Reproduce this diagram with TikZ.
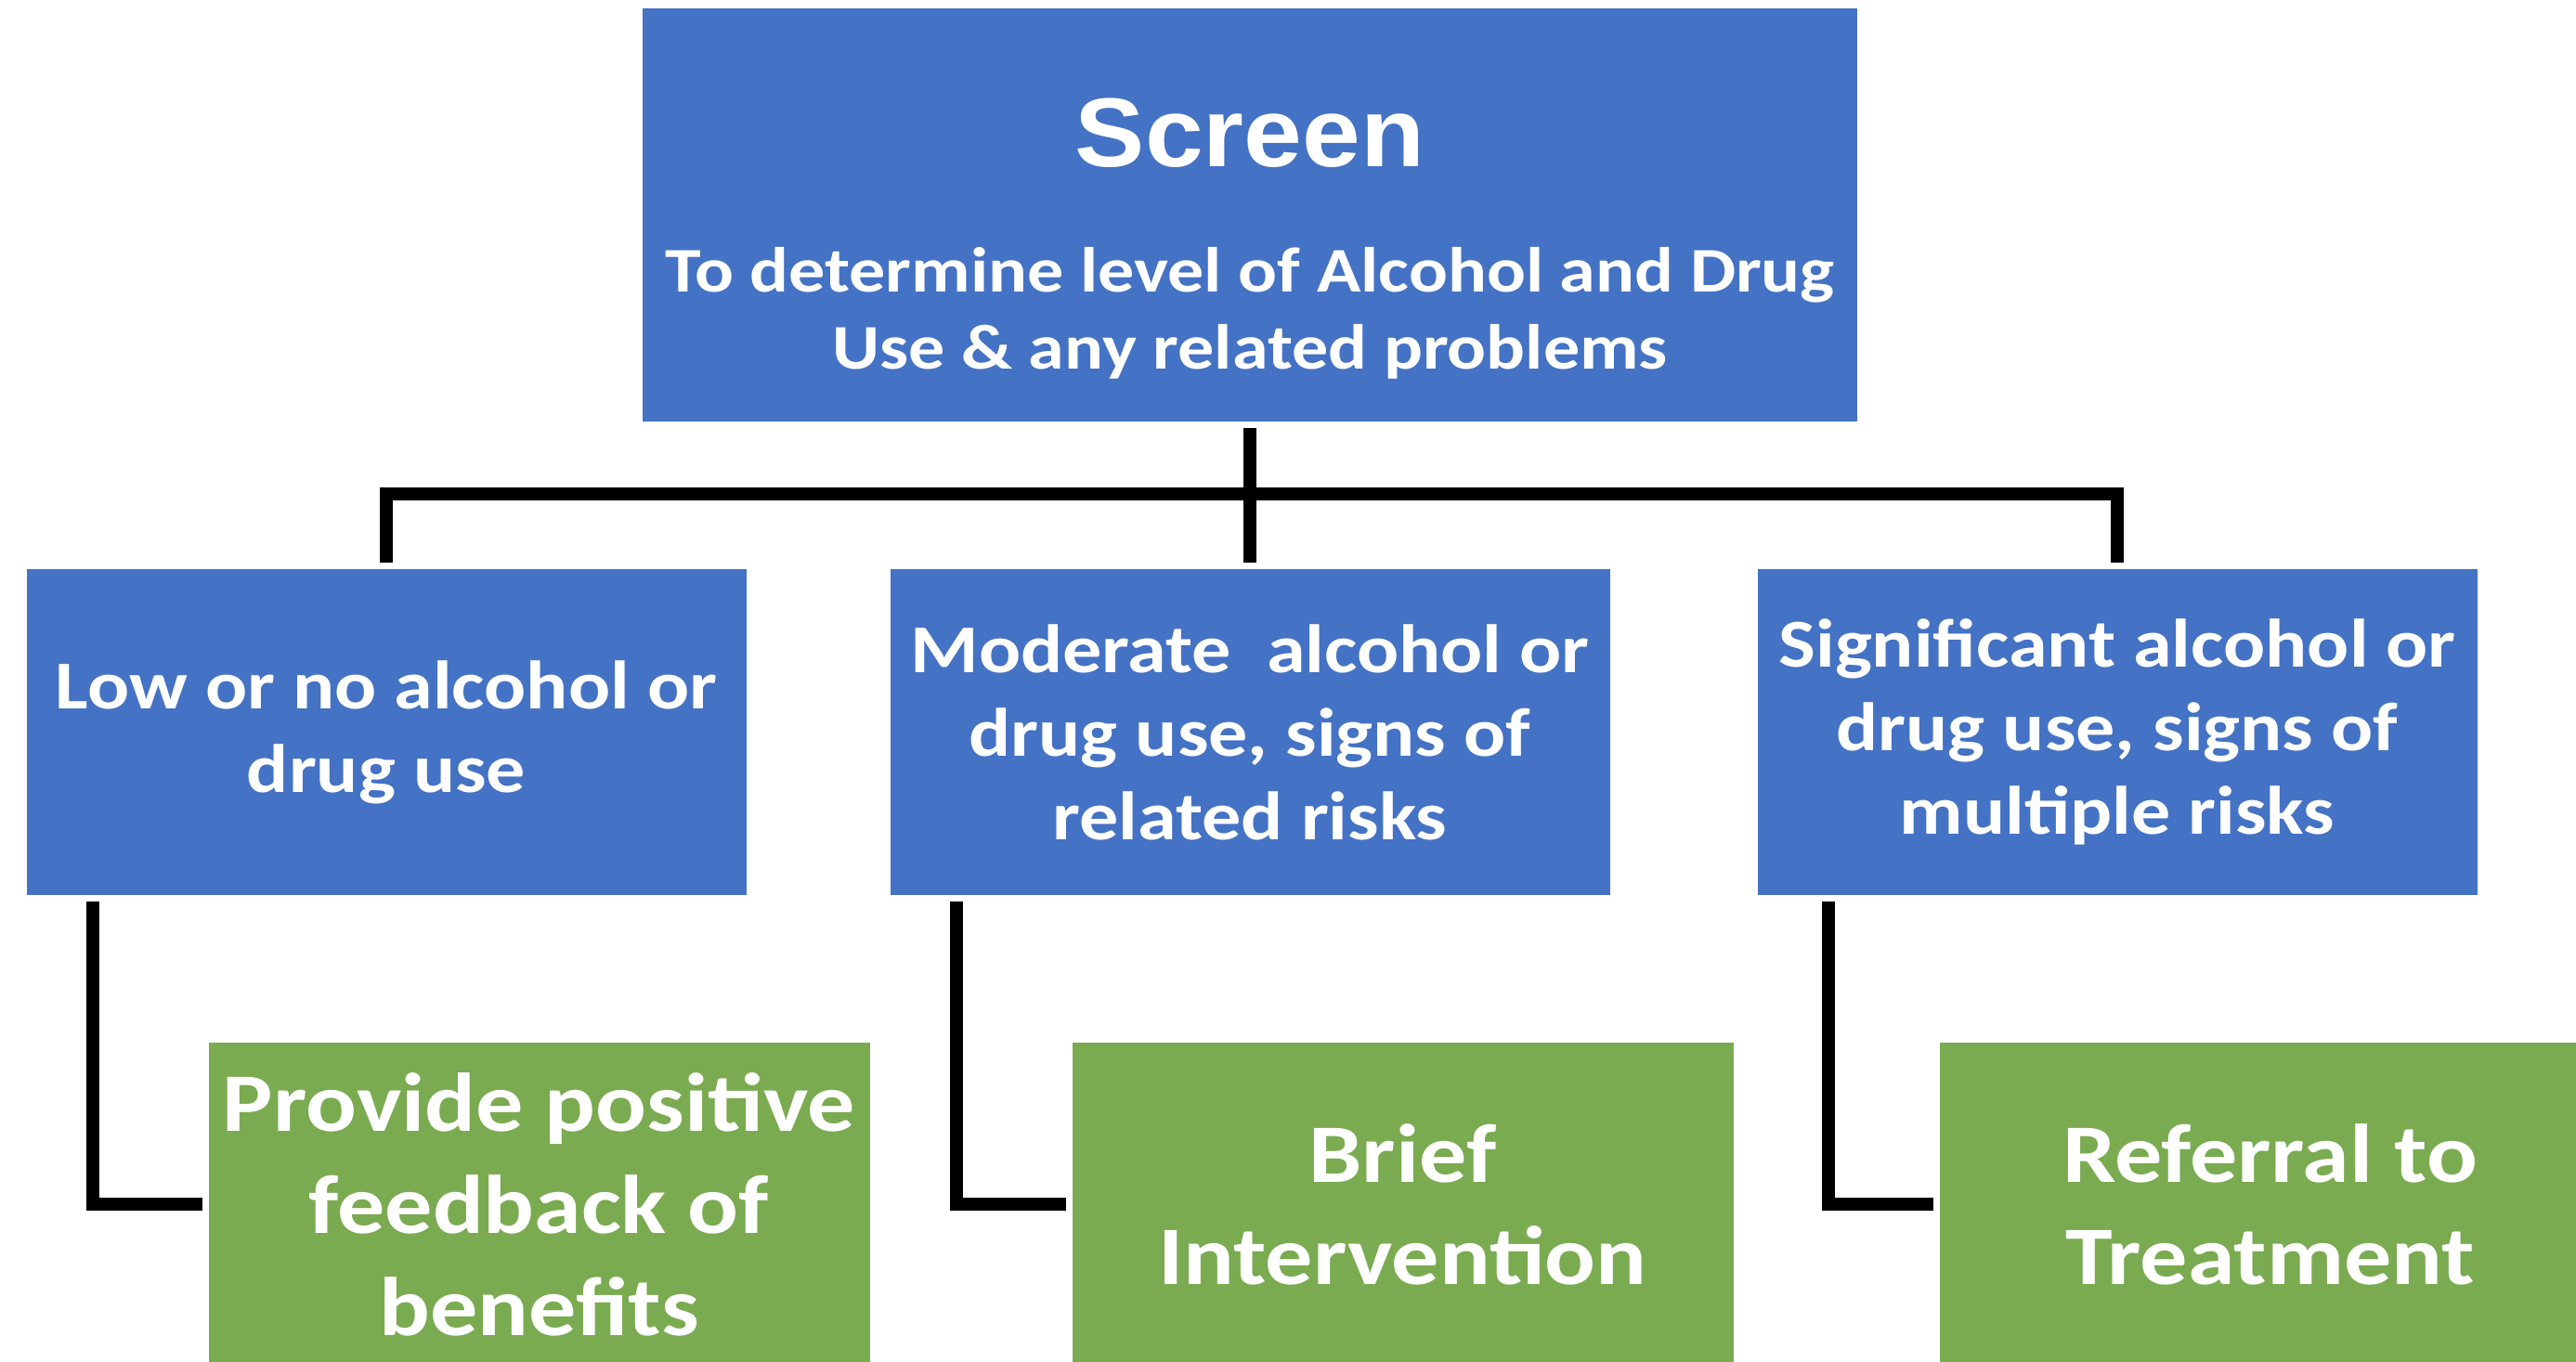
\documentclass[tikz,border=0pt]{standalone}
\usepackage{fontspec}
\setmainfont[FakeStretch=1.14]{Carlito}
\newfontfamily\headfont[FakeStretch=1.07]{Liberation Sans}
\usetikzlibrary{positioning}
\definecolor{boxblue}{HTML}{4472C4}
\definecolor{boxgreen}{HTML}{7AAB50}

\begin{document}
\begin{tikzpicture}[
    node distance=1.58cm and 1.96cm,
    every node/.style={rectangle, align=center, text=white, inner sep=0pt},
    conn/.style={line width=4pt, black, shorten <=0.06cm, shorten >=0.06cm}, % plain elbow lines
    screenbox/.style={fill=boxblue, minimum width=13.08cm, minimum height=4.45cm, font=\fontsize{19.5}{23.6}\selectfont\bfseries},
    level/.style={fill=boxblue, minimum width=7.75cm, minimum height=3.51cm, font=\fontsize{21}{25.6}\selectfont\bfseries},
    action/.style={fill=boxgreen, minimum width=7.12cm, minimum height=3.48cm, font=\fontsize{25.5}{31.3}\selectfont\bfseries}
]
\useasboundingbox (0,0) rectangle (27.74,-14.66);

\node[screenbox] (screen) at (13.46,-2.315) {\rule{0pt}{1.25cm}{\headfont\fontsize{30}{36}\selectfont Screen}\\[14.8pt]To determine level of Alcohol and Drug\\Use \& any related problems};
\node[level] (low) at (4.16,-7.885) {Low or no alcohol or\\drug use};
\node[level] (moderate) at (13.46,-7.885) {Moderate~ alcohol or\\drug use, signs of\\related risks};
\node[level] (significant) at (22.80,-7.885) {Significant alcohol or\\drug use, signs of\\multiple risks};

\node[action, below right=of low.south west] (feedback) {Provide positive\\feedback of\\benefits};
\node[action, below right=of moderate.south west] (brief) {Brief\\Intervention};
\node[action, below right=of significant.south west] (referral) {Referral to\\Treatment};

\coordinate (bar) at ([yshift=-0.77cm]screen.south);
\draw[conn] (screen.south) -- (moderate.north);
\draw[conn, shorten <=0pt] (bar) -| (low.north);
\draw[conn, shorten <=0pt] (bar) -| (significant.north);

\draw[conn] ([xshift=0.72cm]low.south west) |- (feedback.west);
\draw[conn] ([xshift=0.72cm]moderate.south west) |- (brief.west);
\draw[conn] ([xshift=0.77cm]significant.south west) |- (referral.west);

\end{tikzpicture}
\end{document}
